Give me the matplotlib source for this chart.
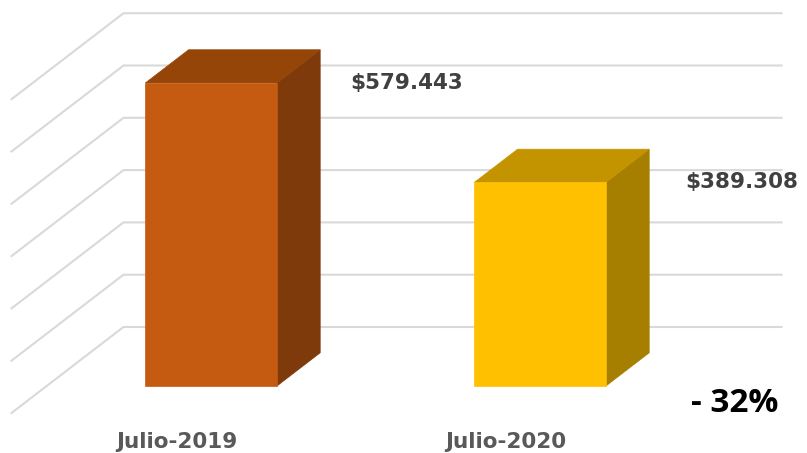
import matplotlib
matplotlib.use("Agg")
import matplotlib.pyplot as plt
from matplotlib.patches import Polygon

# ---- data ----
categories = ["Julio-2019", "Julio-2020"]
values = [579443, 389308]
value_labels = ["$579.443", "$389.308"]
change_label = "- 32%"
gridline_values = [0, 100000, 200000, 300000, 400000, 500000, 600000]

front_colors = ["#C55A11", "#FFC000"]
top_colors = ["#964509", "#C49300"]
side_colors = ["#7E3A0B", "#A67F00"]

# ---- projection (oblique 3D) ----
W, H = 807, 453
DPI = 100
px_per_cat = 329.0
px_per_val = 52.3 / 100000.0
x0_px, y0_px = 176.0, 413.0          # category 0, value 0, depth 0 (pixels from top-left)
depth_dx = 112.0 / px_per_cat         # in category units for full depth
depth_dy = 86.0 / px_per_val          # in value units for full depth
bar_w = 0.40
bar_d0, bar_d1 = 0.314, 0.70
x_left, x_right = -0.5, 1.5
label_dx = [30, 36]                   # px offset of value labels from bar back-right corner

def P(x, y, d):
    return (x + d * depth_dx, y + d * depth_dy)

fig = plt.figure(figsize=(W / DPI, H / DPI), dpi=DPI)
ax = fig.add_axes([0, 0, 1, 1])
ax.set_xlim(-x0_px / px_per_cat, (W - x0_px) / px_per_cat)
ax.set_ylim((y0_px - H) / px_per_val, y0_px / px_per_val)
ax.axis("off")

grid_c = "#D9D9D9"
for g in gridline_values:
    a = P(x_left, g, 0)
    b = P(x_left, g, 1)
    c = P(x_right, g, 1)
    ax.plot([a[0], b[0], c[0]], [a[1], b[1], c[1]], color=grid_c, lw=1.5,
            solid_joinstyle="miter", zorder=1)

for i, v in enumerate(values):
    xl, xr = i - bar_w / 2, i + bar_w / 2
    front = [P(xl, 0, bar_d0), P(xr, 0, bar_d0), P(xr, v, bar_d0), P(xl, v, bar_d0)]
    top = [P(xl, v, bar_d0), P(xr, v, bar_d0), P(xr, v, bar_d1), P(xl, v, bar_d1)]
    side = [P(xr, 0, bar_d0), P(xr, 0, bar_d1), P(xr, v, bar_d1), P(xr, v, bar_d0)]
    for poly, col in ((side, side_colors[i]), (top, top_colors[i]), (front, front_colors[i])):
        ax.add_patch(Polygon(poly, closed=True, facecolor=col, edgecolor=col,
                             lw=0.5, zorder=3))
    # value label to the right of the bar top
    lx, ly = P(xr, v, bar_d1)
    ax.text(lx + label_dx[i] / px_per_cat, ly - 33 / px_per_val, value_labels[i],
            ha="left", va="center", fontsize=15.5, fontweight="bold",
            color="#404040", family="DejaVu Sans", zorder=4)
    # category label at floor front
    ax.text(i + 1 / px_per_cat, -29 / px_per_val, categories[i], ha="center", va="center",
            fontsize=15.5, fontweight="bold", color="#595959",
            family="DejaVu Sans", zorder=4)

ax.text((735 - x0_px) / px_per_cat, (y0_px - 403) / px_per_val, change_label,
        ha="center", va="center", fontsize=24, fontweight="bold",
        color="black", family="Open Sans", zorder=4)

fig.savefig("out.png", dpi=DPI)
